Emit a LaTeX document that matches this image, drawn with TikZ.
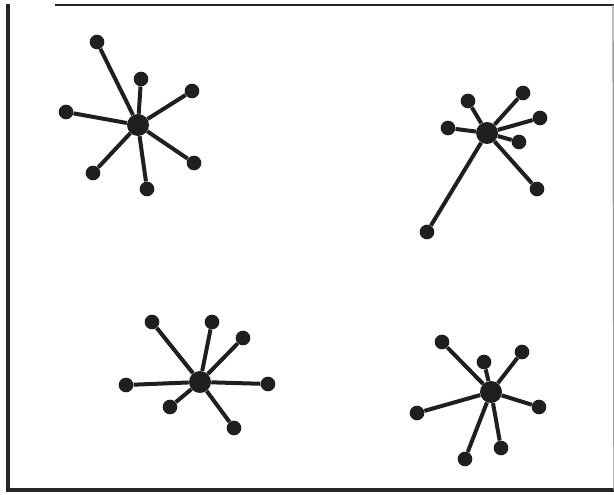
\documentclass[tikz,border=0pt]{standalone}
\begin{document}
\begin{tikzpicture}[x=0.75pt,y=-0.75pt,
  hub/.style={circle,fill=black!88,inner sep=0pt,minimum size=16.5pt},
  leaf/.style={circle,fill=black!88,inner sep=0pt,minimum size=11pt},
  spoke/.style={line width=3pt,black!88},
  frameline/.style={line width=2pt,black!85}]
\useasboundingbox (0,0) rectangle (614,495);
% frame
\coordinate (f1) at (55,5);
\coordinate (f2) at (614,5);
\coordinate (f3) at (8,4);
\coordinate (f4) at (8,490);
\coordinate (f5) at (614,490);
\coordinate (f6) at (613,5);
\draw[frameline,line width=1.6pt] (f1) -- (f2);
\draw[frameline,line width=2.4pt] (f3) -- (f4) -- (f5);
\draw[black!40,line width=1pt] (f6) -- (f5);
% star 1
\node[hub] (h1) at (138,125) {};
\foreach \p [count=\i] in {(97,42),(141,79),(192,91),(66,112),(194,163),(147,189),(93,173)}
  {\node[leaf] (a\i) at \p {}; \draw[spoke] (h1) -- (a\i);}
% star 2
\node[hub] (h2) at (487,133) {};
\foreach \p [count=\i] in {(468,101),(523,93),(540,118),(448,128),(519,142),(537,189),(427,232)}
  {\node[leaf] (b\i) at \p {}; \draw[spoke] (h2) -- (b\i);}
% star 3
\node[hub] (h3) at (200,382) {};
\foreach \p [count=\i] in {(152,322),(212,322),(243,338),(126,385),(268,384),(170,407),(234,428)}
  {\node[leaf] (c\i) at \p {}; \draw[spoke] (h3) -- (c\i);}
% star 4
\node[hub] (h4) at (491,392) {};
\foreach \p [count=\i] in {(442,342),(484,362),(522,352),(417,413),(539,407),(501,448),(465,459)}
  {\node[leaf] (d\i) at \p {}; \draw[spoke] (h4) -- (d\i);}
\end{tikzpicture}
\end{document}
